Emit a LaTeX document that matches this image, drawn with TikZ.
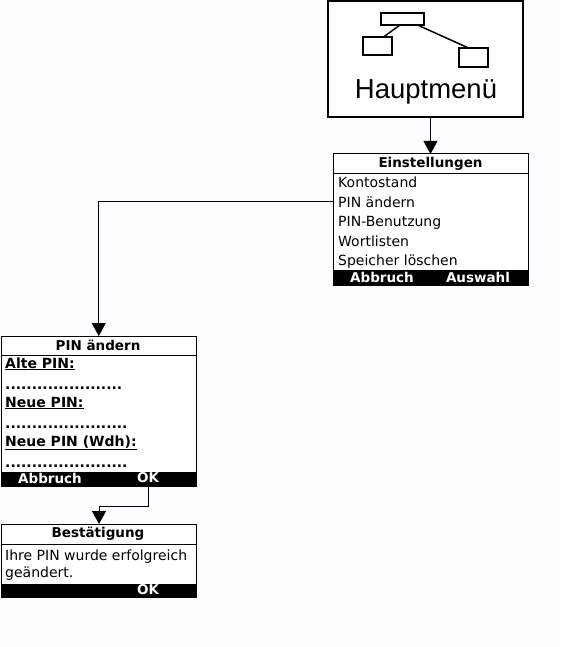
\documentclass[tikz,border=0pt]{standalone}
\usepackage{fontspec}
\setmainfont{DejaVu Sans}
\newfontfamily\bigfont{Liberation Sans}
\usetikzlibrary{arrows.meta}

\definecolor{paper}{RGB}{252,253,255}

\tikzset{
    screen/.style={draw, line width=1pt, fill=white, minimum width=195.5pt, anchor=north west, inner sep=0pt, outer sep=0pt},
    softbar/.style={fill=black, minimum width=195.5pt, anchor=north west, inner sep=0pt, outer sep=0pt},
    titleline/.style={font=\fontsize{13.5}{15}\selectfont\bfseries, inner sep=0pt},
    entry/.style={font=\fontsize{14}{15}\selectfont, anchor=base west, inner sep=0pt},
    label/.style={font=\fontsize{14}{15}\selectfont\bfseries, anchor=base west, inner sep=0pt},
    softkey/.style={font=\fontsize{13.5}{15}\selectfont\bfseries, text=white, inner sep=0pt},
    smallbox/.style={draw, line width=1.2pt, anchor=north west, inner sep=0pt, outer sep=0pt},
    flow/.style={line width=0.9pt, -{Triangle[width=14pt,length=13pt]}}
}

\begin{document}
\begin{tikzpicture}[x=1pt, y=-1pt]

\useasboundingbox[fill=paper] (0,0) rectangle (560,647);

% ================= Hauptmenue =================

\node[draw, line width=2pt, fill=white, minimum width=195pt, minimum height=116pt, anchor=north west, inner sep=0pt, outer sep=0pt] (main) at (328,1) {};
\node[smallbox, minimum width=43pt, minimum height=12pt] (top) at (381,13) {};
\node[smallbox, minimum width=29pt, minimum height=18pt] (left) at (363,37) {};
\node[smallbox, minimum width=29pt, minimum height=19pt] (right) at (459,48) {};
\node[font=\bigfont\fontsize{27.5}{30}\selectfont, inner sep=0pt] (mainText) at (426,92) {Hauptmenü};

\draw[line width=1.5pt] ([xshift=-2.5pt]top.south) -- ([xshift=6pt]left.north);
\draw[line width=1.5pt] ([xshift=15pt]top.south) -- ([xshift=-5pt]right.north);

% ================= Einstellungen =================

\node[screen, minimum width=195pt, minimum height=131pt] (einst) at (333,154) {};
\node[softbar, minimum width=195pt, minimum height=15pt] (einstBar) at (333,270) {};
\node[titleline] (einstTitle) at (430.5,163.5) {Einstellungen};
\draw (einst.west |- 0,173) -- (einst.east |- 0,173);

\node[entry] (mKonto) at (338,187) {Kontostand};
\node[entry] (mPin) at (338,207) {PIN ändern};
\node[entry] (mUse) at (338,226) {PIN-Benutzung};
\node[entry] (mWord) at (338,246) {Wortlisten};
\node[entry] (mClear) at (338,265) {Speicher löschen};
\node[softkey] (einstCancel) at (382,277) {Abbruch};
\node[softkey] (einstSelect) at (478,277) {Auswahl};

% ================= PIN aendern =================

\node[screen, minimum height=150pt] (pin) at (1,336) {};
\node[softbar, minimum height=14pt] (pinBar) at (1,472) {};
\node[titleline] (pinTitle) at (98,345) {PIN ändern};
\draw (pin.west |- 0,355) -- (pin.east |- 0,355);

\node[label] (pinOld) at (5,368) {\underline{Alte PIN:}};
\node[label] (pinOldDots) at (5,389) {......................};
\node[label] (pinNew) at (5,407) {\underline{Neue PIN:}};
\node[label] (pinNewDots) at (5,428) {.......................};
\node[label] (pinRep) at (5,446) {\underline{Neue PIN (Wdh):}};
\node[label] (pinRepDots) at (5,467) {.......................};
\node[softkey] (pinCancel) at (50,478) {Abbruch};
\node[softkey] (pinOk) at (148,478) {OK};

% ================= Bestaetigung =================

\node[screen, minimum height=73pt] (best) at (1,524) {};
\node[softbar, minimum height=13pt] (bestBar) at (1,584) {};
\node[titleline] (bestTitle) at (98,533.5) {Bestätigung};
\draw (best.west |- 0,544) -- (best.east |- 0,544);

\node[entry] (bestLine) at (5,560) {Ihre PIN wurde erfolgreich};
\node[entry] (bestLineB) at (5,577) {geändert.};
\node[softkey] (bestOk) at (148,590) {OK};

% ================= Arrows =================

\draw[flow] (main.south -| einstTitle) -- (einst.north -| einstTitle);
\draw[flow] (einst.west |- mPin) -| (pin.north);
\draw[flow] (pinOk |- pinBar.south) |- (99,506) -- (99,524);

\end{tikzpicture}
\end{document}
